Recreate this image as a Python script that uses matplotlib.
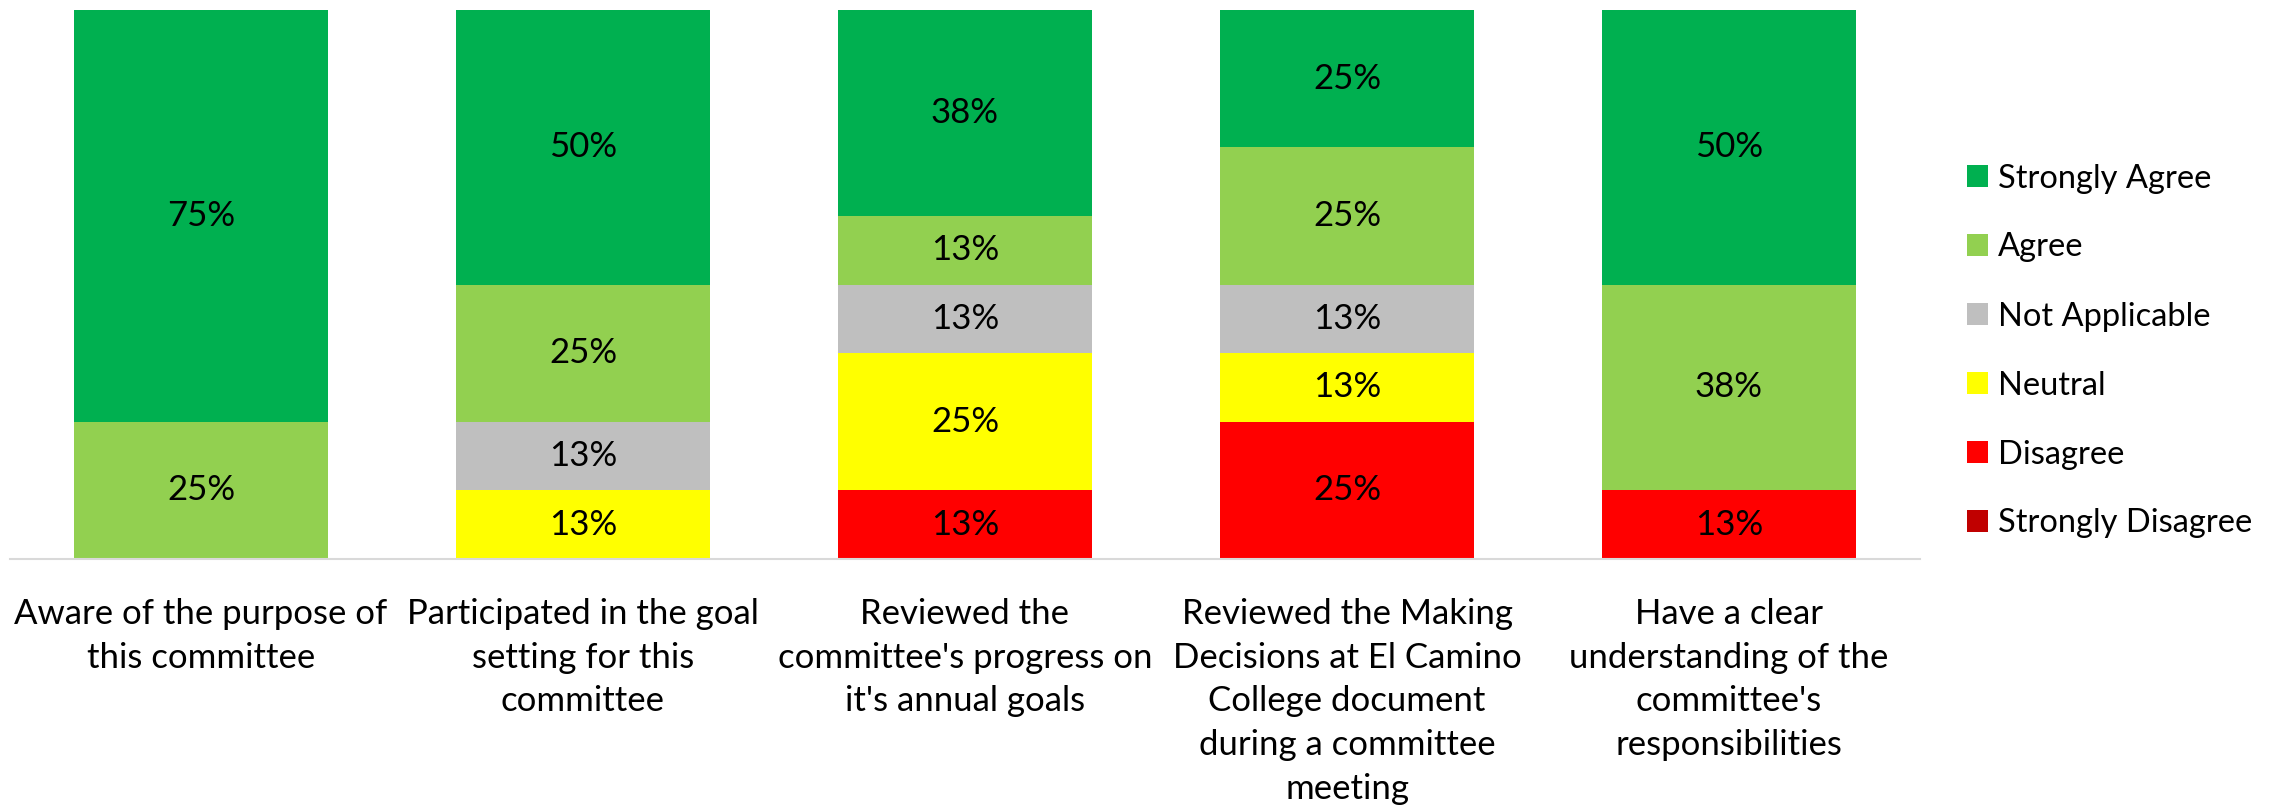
import matplotlib
matplotlib.use('Agg')
import matplotlib.pyplot as plt
from matplotlib.patches import Patch

plt.rcParams['font.family'] = ['Lato', 'DejaVu Sans']

categories = [
    "Aware of the purpose of\nthis committee",
    "Participated in the goal\nsetting for this\ncommittee",
    "Reviewed the\ncommittee's progress on\nit's annual goals",
    "Reviewed the Making\nDecisions at El Camino\nCollege document\nduring a committee\nmeeting",
    "Have a clear\nunderstanding of the\ncommittee's\nresponsibilities",
]

# stacked bottom -> top
strongly_disagree = [0, 0, 0, 0, 0]
disagree = [0, 0, 12.5, 25, 12.5]
neutral = [0, 12.5, 25, 12.5, 0]
not_applicable = [0, 12.5, 12.5, 12.5, 0]
agree = [25, 25, 12.5, 25, 37.5]
strongly_agree = [75, 50, 37.5, 25, 50]

series = [
    ('Strongly Disagree', strongly_disagree, '#C00000'),
    ('Disagree', disagree, '#FF0000'),
    ('Neutral', neutral, '#FFFF00'),
    ('Not Applicable', not_applicable, '#BFBFBF'),
    ('Agree', agree, '#92D050'),
    ('Strongly Agree', strongly_agree, '#00B050'),
]

W, H = 2290, 807
fig = plt.figure(figsize=(W / 100, H / 100), dpi=100)
ax = fig.add_axes([10 / W, 1 - 559 / H, 1910 / W, 549 / H])

x = list(range(len(categories)))
bottom = [0] * len(categories)
for name, vals, color in series:
    bars = ax.bar(x, vals, width=0.665, bottom=bottom, color=color, label=name)
    labels = [f"{int(v + 0.5)}%" if v > 0 else "" for v in vals]
    ax.bar_label(bars, labels=labels, label_type='center', fontsize=25, color='black')
    bottom = [b + v for b, v in zip(bottom, vals)]

ax.set_xlim(-0.5, len(categories) - 0.5)
ax.set_ylim(0, 100)
ax.set_yticks([])
for s in ['top', 'right', 'left']:
    ax.spines[s].set_visible(False)
ax.spines['bottom'].set_color('#D9D9D9')
ax.spines['bottom'].set_linewidth(1.5)
ax.set_xticks(x)
ax.set_xticklabels(categories, fontsize=25, linespacing=1.45, va='top')
ax.tick_params(axis='x', length=0, pad=28)

handles = [Patch(facecolor=c, label=n) for n, v, c in reversed(series)]
leg_fs = 23.5
row_gap = 69  # px between legend rows in the reference


def make_legend(spacing):
    return fig.legend(handles=handles, loc='center left',
                      bbox_to_anchor=(1967 / W, 1 - 351 / H),
                      frameon=False, fontsize=leg_fs, handlelength=0.64,
                      handleheight=0.64, handletextpad=0.3,
                      labelspacing=spacing, borderpad=0, borderaxespad=0)


spacing = 1.1
leg = make_legend(spacing)
fig.canvas.draw()
ys = [t.get_window_extent().y0 for t in leg.get_texts()]
current = (ys[0] - ys[-1]) / (len(ys) - 1)
leg.remove()
spacing += (row_gap - current) / (leg_fs * 100 / 72)
make_legend(spacing)

fig.savefig('out.png', dpi=100)
